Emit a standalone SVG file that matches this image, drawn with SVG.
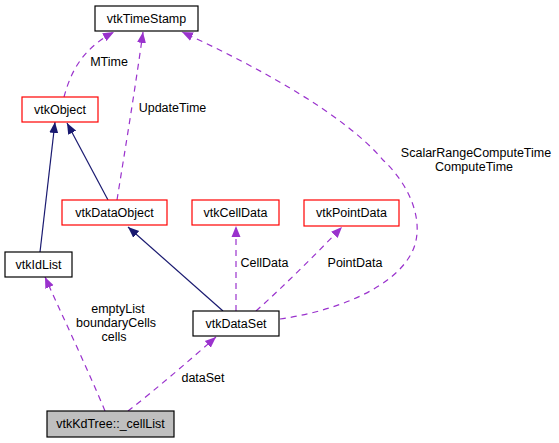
<svg xmlns="http://www.w3.org/2000/svg" width="559" height="443" viewBox="0 0 559 443">
<style>
text{font-family:"Liberation Sans",Arial,sans-serif;font-size:12.5px;fill:#000;text-anchor:middle}
.box{fill:#fff;stroke:#000;stroke-width:1.2}
.red{fill:#fff;stroke:#ff0000;stroke-width:1.2}
.gray{fill:#bfbfbf;stroke:#000;stroke-width:1.2}
.dep{fill:none;stroke:#9a32cd;stroke-width:1.2;stroke-dasharray:6,5}
.inh{fill:none;stroke:#191970;stroke-width:1.2}
</style>
<defs>
<marker id="ap" viewBox="0 0 11 10" refX="11" refY="5" markerWidth="11" markerHeight="10" markerUnits="userSpaceOnUse" orient="auto"><path d="M0,0.5 L11,5 L0,9.5 Z" fill="#9a32cd"/></marker>
<marker id="an" viewBox="0 0 11 10" refX="11" refY="5" markerWidth="11" markerHeight="10" markerUnits="userSpaceOnUse" orient="auto"><path d="M0,0.5 L11,5 L0,9.5 Z" fill="#191970"/></marker>
</defs>
<rect width="559" height="443" fill="#fff"/>
<g id="edges">
<path class="dep" d="M64,97 C70,75 80,50 114,32" marker-end="url(#ap)"/>
<path class="dep" d="M117,200 C125,150 135,90 143,32" marker-end="url(#ap)"/>
<path class="dep" d="M280,319 C330,312 395,290 413,250 C425,222 410,185 383,160 C345,115 260,68 182,32" marker-end="url(#ap)"/>
<path class="inh" d="M40,252 L55,122" marker-end="url(#an)"/>
<path class="inh" d="M108,200 L67,123" marker-end="url(#an)"/>
<path class="inh" d="M223,311 L128,227" marker-end="url(#an)"/>
<path class="dep" d="M236,311 L236,226" marker-end="url(#ap)"/>
<path class="dep" d="M256,311 C285,285 315,255 342,227" marker-end="url(#ap)"/>
<path class="dep" d="M105,411 C88,370 62,315 45,277" marker-end="url(#ap)"/>
<path class="dep" d="M128,411 C155,390 190,360 216,337" marker-end="url(#ap)"/>
<text x="109" y="66">MTime</text>
<text x="172.5" y="112">UpdateTime</text>
<text x="476" y="157">ScalarRangeComputeTime</text>
<text x="474" y="171">ComputeTime</text>
<text x="264.5" y="267">CellData</text>
<text x="355" y="267">PointData</text>
<text x="118" y="313">emptyList</text>
<text x="116" y="327">boundaryCells</text>
<text x="114" y="341">cells</text>
<text x="203" y="382">dataSet</text>
</g>
<g id="vtkTimeStamp"><rect class="box" x="95" y="6" width="103" height="25"/><text x="146.5" y="23">vtkTimeStamp</text></g>
<g id="vtkObject"><rect class="red" x="22" y="97" width="76" height="25"/><text x="60" y="114">vtkObject</text></g>
<g id="vtkDataObject"><rect class="red" x="62" y="200" width="105" height="25"/><text x="114.5" y="217">vtkDataObject</text></g>
<g id="vtkCellData"><rect class="red" x="192" y="200" width="87" height="25"/><text x="235.5" y="217">vtkCellData</text></g>
<g id="vtkPointData"><rect class="red" x="304" y="200" width="95" height="26"/><text x="351.5" y="217">vtkPointData</text></g>
<g id="vtkIdList"><rect class="box" x="5" y="252" width="67" height="25"/><text x="38.5" y="269">vtkIdList</text></g>
<g id="vtkDataSet"><rect class="box" x="193" y="311" width="86" height="25"/><text x="236" y="328">vtkDataSet</text></g>
<g id="vtkKdTree_cellList"><rect class="gray" x="47" y="411" width="127" height="26"/><text x="110.5" y="428">vtkKdTree::_cellList</text></g>
</svg>
